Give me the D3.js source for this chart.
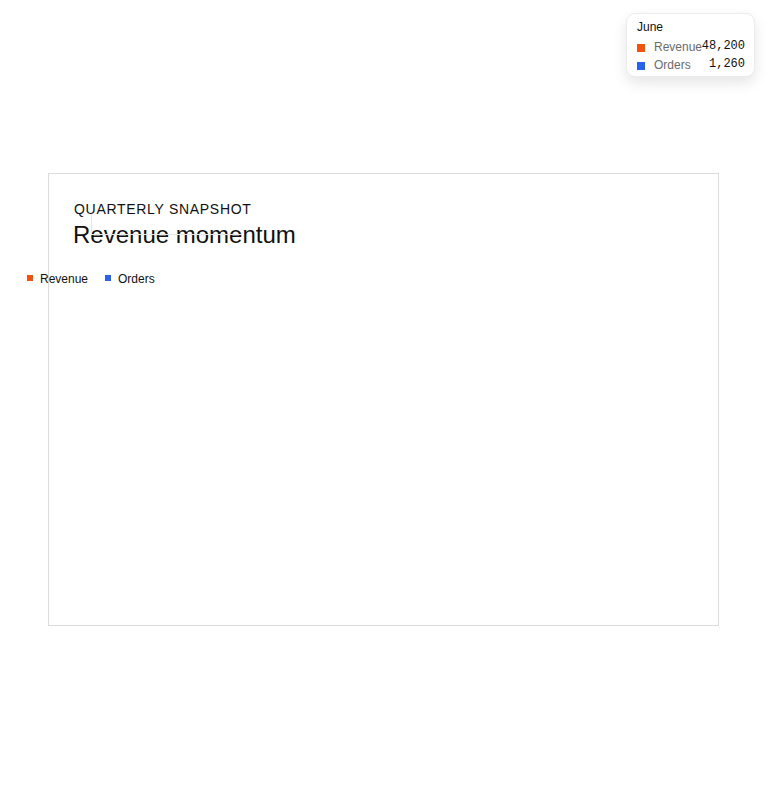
<!DOCTYPE html>
<html>
<head>
<meta charset="utf-8">
<script src="https://cdn.jsdelivr.net/npm/d3@7"></script>
<style>
  body { margin: 0; background: #fff; font-family: "Liberation Sans", Arial, sans-serif; }
  #card {
    position: absolute; left: 48px; top: 173px; width: 669px; height: 451px;
    border: 1px solid #dcdcdc; box-sizing: content-box;
  }
  #tip {
    position: absolute; left: 626px; top: 13px; width: 129px; height: 64px;
    box-sizing: border-box; background: #fff; border: 1px solid #ececec; border-radius: 9px;
    box-shadow: 0 6px 14px rgba(0,0,0,0.10); padding: 6px 9px 6px 10px; font-size: 12px;
  }
  svg { position: absolute; left: 0; top: 0; }
</style>
</head>
<body>
<div id="card"></div>
<svg id="chart" width="768" height="800"></svg>
<div id="tip"></div>
<script>
// Series shown in the chart
const seriesNames = ['Revenue', 'Orders'];
const seriesColors = ['#f0530f', '#2a63eb'];
// Hovered month and its values (the only values visible)
const months = ['June'];
const revenue = [48200];
const orders = [1260];

const svg = d3.select('#chart');

// Header text inside the card
svg.append('text')
    .attr('x', 74).attr('y', 214)
    .style('font-size', '14px')
    .style('letter-spacing', '0.7px')
    .style('fill', '#111')
    .text('QUARTERLY SNAPSHOT');

svg.append('text')
    .attr('x', 73).attr('y', 243)
    .style('font-size', '24px')
    .style('fill', '#111')
    .text('Revenue momentum');

// The plot area has collapsed to a tiny strip over the title
const plot = { left: 91, right: 242, top: 213, bottom: 234 };
const x = d3.scalePoint().domain(months).range([plot.left, plot.right]);
const y = d3.scaleLinear().domain([0, d3.max(revenue)]).range([plot.bottom, plot.top]);

svg.append('g')
    .attr('transform', `translate(${plot.left},0)`)
    .call(d3.axisLeft(y).ticks(0).tickSize(0).tickSizeOuter(0));
const gx = svg.append('g')
    .attr('transform', `translate(0,${plot.bottom})`)
    .call(d3.axisBottom(x).tickSize(0).tickSizeOuter(0).tickFormat(''));
gx.select('.domain').attr('d', `M${plot.left},0H${plot.right}`);
svg.selectAll('.tick').remove();
svg.selectAll('.domain')
    .attr('stroke', '#e6e6e6')
    .attr('shape-rendering', 'crispEdges');

// Legend, sitting left of the card edge
const legend = svg.append('g').attr('transform', 'translate(27,278)');
const legX = [0, 78];
seriesNames.forEach((name, i) => {
    const g = legend.append('g').attr('transform', `translate(${legX[i]},0)`);
    g.append('rect').attr('x', 0).attr('y', -3).attr('width', 6).attr('height', 6)
        .attr('fill', seriesColors[i]);
    g.append('text').attr('x', 13).attr('y', 4.5)
        .style('font-size', '12px').style('fill', '#111').text(name);
});

// Tooltip for the hovered month
const tip = d3.select('#tip');
tip.append('div').style('color', '#111').style('height', '19px').style('line-height', '15px')
    .text(months[0]);
const fmt = d3.format(',');
const values = [revenue[0], orders[0]];
seriesNames.forEach((name, i) => {
    const row = tip.append('div')
        .style('position', 'relative').style('height', '18px').style('line-height', '16px');
    row.append('span')
        .style('display', 'inline-block').style('width', '8px').style('height', '8px')
        .style('background', seriesColors[i]).style('margin', '0 9px 0 0')
        .style('vertical-align', '-0.5px');
    row.append('span').style('color', '#6b6b6b').text(name);
    row.append('span')
        .style('position', 'absolute').style('right', '0').style('top', '-1px')
        .style('font-family', '"Liberation Mono", "DejaVu Sans Mono", monospace')
        .style('color', '#111')
        .text(fmt(values[i]));
});
</script>
</body>
</html>
